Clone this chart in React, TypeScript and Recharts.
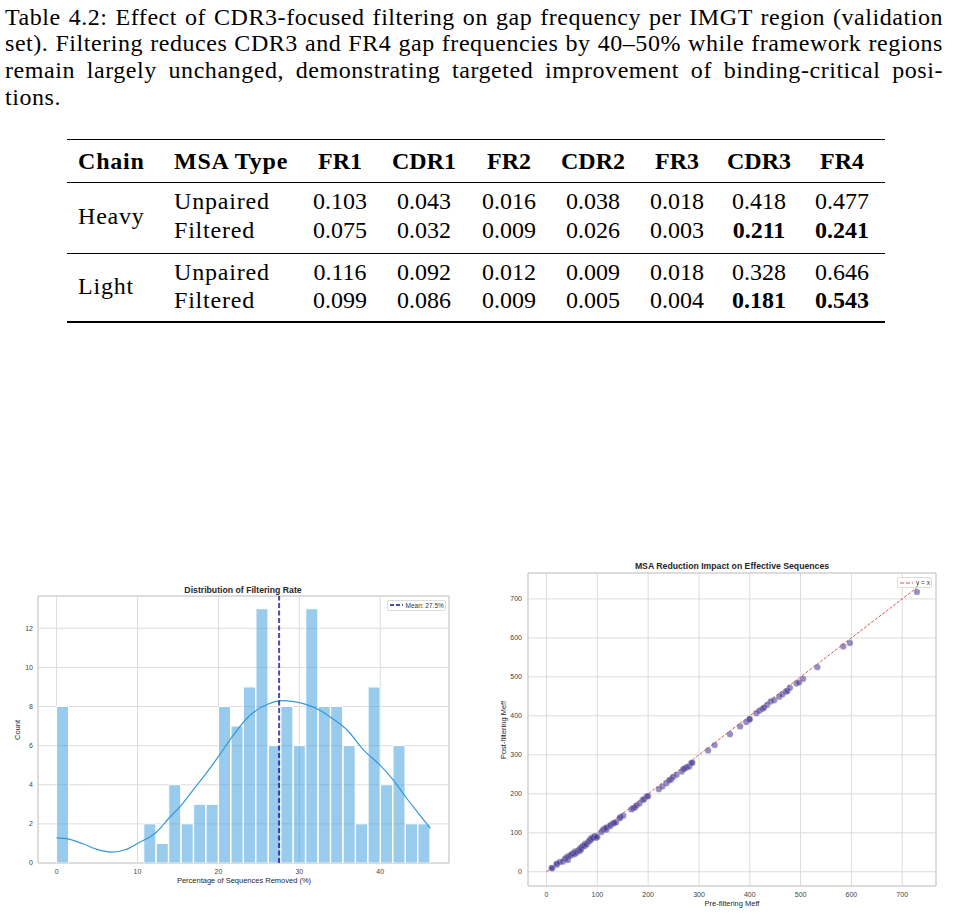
import React from "react";
import {
  ComposedChart,
  Bar,
  Line,
  Scatter,
  XAxis,
  YAxis,
  CartesianGrid,
  ReferenceLine,
  ReferenceArea,
} from "recharts";

// caption + table
const CAPTION_LINES = [
  "Table 4.2: Effect of CDR3-focused filtering on gap frequency per IMGT region (validation",
  "set). Filtering reduces CDR3 and FR4 gap frequencies by 40–50% while framework regions",
  "remain largely unchanged, demonstrating targeted improvement of binding-critical posi-",
  "tions.",
];

const REGIONS = ["FR1", "CDR1", "FR2", "CDR2", "FR3", "CDR3", "FR4"];
const heavyUnpaired = [0.103, 0.043, 0.016, 0.038, 0.018, 0.418, 0.477];
const heavyFiltered = [0.075, 0.032, 0.009, 0.026, 0.003, 0.211, 0.241];
const lightUnpaired = [0.116, 0.092, 0.012, 0.009, 0.018, 0.328, 0.646];
const lightFiltered = [0.099, 0.086, 0.009, 0.005, 0.004, 0.181, 0.543];
const BOLD_FILTERED = ["CDR3", "FR4"];

// histogram of filtering rate
const binCounts = [
  8, 0, 0, 0, 0, 0, 0, 2, 1, 4, 2, 3, 3, 8, 7,
  9, 13, 6, 8, 6, 13, 8, 8, 6, 2, 9, 4, 6, 2, 2,
];
const BIN_WIDTH = 1.54;
const MEAN_RATE = 27.5;
const kdeX = [
  0, 1.5, 3.3, 5, 6.8, 8.5, 10, 12.4, 13.9, 15.5, 17, 18.6, 20.1, 21.6, 23.9,
  26, 27.8, 29.3, 30.9, 32.6, 34.2, 35.9, 37.9, 40.1, 41.6, 43.1, 44.7, 46.2,
];
const kdeY = [
  1.28, 1.22, 0.97, 0.7, 0.56, 0.68, 1.0, 1.6, 2.3, 3.0, 3.8, 4.65, 5.5, 6.4, 7.55,
  8.1, 8.3, 8.25, 8.1, 7.8, 7.35, 6.8, 5.8, 4.95, 4.25, 3.4, 2.55, 1.77,
];
const histXTicks = [0, 10, 20, 30, 40];
const histYTicks = [0, 2, 4, 6, 8, 10, 12];
const HIST_X_DOMAIN = [-2.3, 48.5];
const HIST_Y_DOMAIN = [0, 13.65];

// Meff scatter
const preMeff = [
  10, 11, 20, 20, 26, 32, 36, 39, 42, 43, 47, 49, 52, 55, 56, 59, 62, 65, 66, 68,
  69, 72, 75, 76, 79, 82, 85, 86, 88, 90, 92, 95, 98, 100, 108, 111, 115, 118, 118, 125,
  126, 131, 133, 137, 144, 145, 151, 167, 170, 174, 177, 183, 189, 192, 197, 200, 221, 228, 236, 241,
  245, 249, 256, 266, 269, 272, 276, 281, 285, 287, 318, 331, 361, 381, 393, 399, 400, 413, 419, 425,
  428, 434, 441, 448, 458, 464, 471, 474, 479, 492, 497, 505, 533, 584, 597, 729,
];
const postMeff = [
  10, 9, 18, 21, 25, 26, 33, 37, 30, 40, 41, 45, 47, 45, 52, 49, 55, 53, 60, 57,
  63, 67, 66, 72, 70, 77, 79, 84, 83, 88, 87, 92, 87, 90, 102, 108, 111, 108, 114, 117,
  120, 124, 125, 127, 137, 140, 144, 160, 163, 165, 170, 175, 184, 186, 193, 194, 212, 219, 227, 234,
  237, 243, 249, 257, 263, 265, 268, 270, 279, 280, 311, 325, 353, 373, 384, 390, 392, 407, 413, 418,
  421, 428, 437, 440, 449, 455, 462, 464, 472, 483, 486, 495, 525, 578, 587, 718,
];
const meffTicks = [0, 100, 200, 300, 400, 500, 600, 700];
const MEFF_DOMAIN = [-36.5, 766.5];

const SANS = '"Liberation Sans", Arial, sans-serif';
const SERIF = '"Liberation Serif", "Times New Roman", serif';
const tickStyle = { fontSize: 7, fill: "#444", fontFamily: SANS };

const abs = (left: number, top: number): React.CSSProperties => ({ position: "absolute", left, top });

function Caption() {
  return (
    <div
      style={{
        ...abs(5, 3.5),
        width: 938,
        fontFamily: SERIF,
        fontSize: 24,
        lineHeight: "26.7px",
        letterSpacing: "0.55px",
        color: "#000",
      }}
    >
      {CAPTION_LINES.map((line, i) => (
        <div
          key={i}
          style={{
            textAlign: "justify",
            textAlignLast: i < CAPTION_LINES.length - 1 ? "justify" : "left",
            whiteSpace: "nowrap",
          }}
        >
          {line}
        </div>
      ))}
    </div>
  );
}

const COL_X = [340, 424, 509, 593, 677, 759, 842];

function Cell({ x, y, text, bold, center, wide }: { x: number; y: number; text: string; bold?: boolean; center?: boolean; wide?: boolean }) {
  return (
    <div
      style={{
        ...abs(x, y - 15),
        height: 30,
        lineHeight: "30px",
        whiteSpace: "nowrap",
        letterSpacing: wide ? "0.8px" : undefined,
        fontWeight: bold ? "bold" : "normal",
        transform: center ? "translateX(-50%)" : undefined,
      }}
    >
      {text}
    </div>
  );
}

function GapTable() {
  const groups = [
    { chain: "Heavy", chainY: 215.5, rows: [
      { type: "Unpaired", values: heavyUnpaired, y: 200.5, filtered: false },
      { type: "Filtered", values: heavyFiltered, y: 229.5, filtered: true },
    ] },
    { chain: "Light", chainY: 286, rows: [
      { type: "Unpaired", values: lightUnpaired, y: 271.5, filtered: false },
      { type: "Filtered", values: lightFiltered, y: 300, filtered: true },
    ] },
  ];
  const rule = (y: number, h: number) => (
    <div style={{ ...abs(67, y), width: 818, height: h, background: "#000" }} />
  );
  return (
    <div style={{ ...abs(0, 0), fontFamily: SERIF, fontSize: 24, color: "#000" }}>
      {rule(138.5, 1.8)}
      {rule(181.5, 1)}
      {rule(252.5, 1)}
      {rule(321, 1.8)}
      <Cell x={78} y={160.5} text="Chain" bold wide />
      <Cell x={174} y={160.5} text="MSA Type" bold wide />
      {REGIONS.map((r, i) => (
        <Cell key={r} x={COL_X[i]} y={160.5} text={r} bold center />
      ))}
      {groups.map((g) => (
        <React.Fragment key={g.chain}>
          <Cell x={78} y={g.chainY} text={g.chain} wide />
          {g.rows.map((row) => (
            <React.Fragment key={row.type}>
              <Cell x={174} y={row.y} text={row.type} wide />
              {row.values.map((v, i) => (
                <Cell
                  key={i}
                  x={COL_X[i]}
                  y={row.y}
                  text={v.toFixed(3)}
                  bold={row.filtered && BOLD_FILTERED.includes(REGIONS[i])}
                  center
                />
              ))}
            </React.Fragment>
          ))}
        </React.Fragment>
      ))}
    </div>
  );
}

function ChartText({ x, y, text, size = 7.5, bold, rotate }: { x: number; y: number; text: string; size?: number; bold?: boolean; rotate?: boolean }) {
  return (
    <div
      style={{
        ...abs(x, y),
        transform: `translate(-50%, -50%)${rotate ? " rotate(-90deg)" : ""}`,
        fontFamily: SANS,
        fontSize: size,
        fontWeight: bold ? "bold" : "normal",
        color: "#262626",
        whiteSpace: "nowrap",
        lineHeight: 1,
      }}
    >
      {text}
    </div>
  );
}

function LegendBox({ left, top, width, label, color, opacity }: { left: number; top: number; width: number; label: string; color: string; opacity: number }) {
  return (
    <div
      style={{
        ...abs(left, top),
        width,
        height: 11,
        boxSizing: "border-box",
        border: "1px solid #dcdcdc",
        borderRadius: 2,
        background: "rgba(255,255,255,0.85)",
        display: "flex",
        alignItems: "center",
        paddingLeft: 2,
        fontFamily: SANS,
        fontSize: 6.5,
        color: "#333",
        whiteSpace: "nowrap",
      }}
    >
      <svg width={13} height={6} style={{ marginRight: 3 }}>
        <line x1={0} y1={3} x2={13} y2={3} stroke={color} strokeOpacity={opacity} strokeWidth={label.startsWith("Mean") ? 2 : 1} strokeDasharray="4 2" />
      </svg>
      {label}
    </div>
  );
}

function FilteringHistogram() {
  const histData = binCounts.map((count, i) => ({ x: +((i + 0.5) * BIN_WIDTH).toFixed(3), count }));
  const kdeData = kdeX.map((x, i) => ({ x, y: kdeY[i] }));
  return (
    <>
      <div style={abs(0, 580)}>
        <ComposedChart
          width={470}
          height={310}
          data={histData}
          margin={{ top: 16, right: 21, bottom: 0, left: 0 }}
          barCategoryGap={0}
          barGap={0}
        >
          <CartesianGrid stroke="#dcdcdc" strokeWidth={1} />
          <XAxis
            dataKey="x"
            type="number"
            domain={HIST_X_DOMAIN}
            ticks={histXTicks}
            allowDataOverflow
            axisLine={false}
            tickLine={false}
            tickSize={6}
            tickMargin={0}
            height={27}
            tick={tickStyle}
          />
          <XAxis xAxisId="kde" dataKey="x" type="number" domain={HIST_X_DOMAIN} allowDataOverflow hide />
          <YAxis
            type="number"
            domain={HIST_Y_DOMAIN}
            ticks={histYTicks}
            allowDataOverflow
            axisLine={false}
            tickLine={false}
            tickSize={5}
            tickMargin={0}
            width={38}
            tick={tickStyle}
          />
          <Bar dataKey="count" fill="#3498db" fillOpacity={0.5} stroke="#ffffff" strokeWidth={1} isAnimationActive={false} />
          <Line
            xAxisId="kde"
            data={kdeData}
            dataKey="y"
            type="monotone"
            stroke="#3498db"
            strokeWidth={1.2}
            dot={false}
            activeDot={false}
            isAnimationActive={false}
          />
          <ReferenceLine x={MEAN_RATE} stroke="#00008b" strokeOpacity={0.7} strokeWidth={2} strokeDasharray="5 2.5" />
          <ReferenceArea
            x1={HIST_X_DOMAIN[0]}
            x2={HIST_X_DOMAIN[1]}
            y1={HIST_Y_DOMAIN[0]}
            y2={HIST_Y_DOMAIN[1]}
            fill="none"
            stroke="#cccccc"
            strokeWidth={1}
          />
        </ComposedChart>
      </div>
      <ChartText x={243} y={589.5} text="Distribution of Filtering Rate" size={8.7} bold />
      <ChartText x={244} y={881} text="Percentage of Sequences Removed (%)" />
      <ChartText x={18} y={730} text="Count" rotate />
      <LegendBox left={386.5} top={599.5} width={59} label="Mean: 27.5%" color="#00008b" opacity={0.7} />
    </>
  );
}

function MeffScatter() {
  const points = preMeff.map((pre, i) => ({ pre, post: postMeff[i] }));
  const maxPre = Math.max(...preMeff);
  const identity = [
    { pre: 0, post: 0 },
    { pre: maxPre, post: maxPre },
  ];
  return (
    <>
      <div style={abs(490, 555)}>
        <ComposedChart width={463} height={355} margin={{ top: 18, right: 17, bottom: 0, left: 0 }}>
          <CartesianGrid stroke="#dcdcdc" strokeWidth={1} />
          <XAxis
            dataKey="pre"
            type="number"
            domain={MEFF_DOMAIN}
            ticks={meffTicks}
            allowDataOverflow
            axisLine={false}
            tickLine={false}
            tickSize={6}
            tickMargin={0}
            height={24}
            tick={tickStyle}
          />
          <YAxis
            dataKey="post"
            type="number"
            domain={MEFF_DOMAIN}
            ticks={meffTicks}
            allowDataOverflow
            axisLine={false}
            tickLine={false}
            tickSize={6}
            tickMargin={0}
            width={38}
            tick={tickStyle}
          />
          <Scatter
            data={points}
            dataKey="post"
            isAnimationActive={false}
            shape={(p: any) => (
              <circle cx={p.cx} cy={p.cy} r={3.2} fill="#3f2f8c" fillOpacity={0.55} stroke="#ffffff" strokeOpacity={0.5} strokeWidth={0.4} />
            )}
          />
          <Line
            data={identity}
            dataKey="post"
            type="linear"
            stroke="#d62728"
            strokeOpacity={0.8}
            strokeWidth={1}
            strokeDasharray="3 1.6"
            dot={false}
            activeDot={false}
            isAnimationActive={false}
          />
          <ReferenceArea
            x1={MEFF_DOMAIN[0]}
            x2={MEFF_DOMAIN[1]}
            y1={MEFF_DOMAIN[0]}
            y2={MEFF_DOMAIN[1]}
            fill="none"
            stroke="#cccccc"
            strokeWidth={1}
          />
        </ComposedChart>
      </div>
      <ChartText x={732} y={566} text="MSA Reduction Impact on Effective Sequences" size={8.7} bold />
      <ChartText x={732} y={903.5} text="Pre-filtering Meff" />
      <ChartText x={504} y={730} text="Post-filtering Meff" rotate />
      <LegendBox left={897} top={577} width={35} label="y = x" color="#d62728" opacity={0.8} />
    </>
  );
}

export default function App() {
  return (
    <div style={{ position: "absolute", left: 0, top: 0, width: 953, height: 914, background: "#fff" }}>
      <Caption />
      <GapTable />
      <FilteringHistogram />
      <MeffScatter />
    </div>
  );
}
